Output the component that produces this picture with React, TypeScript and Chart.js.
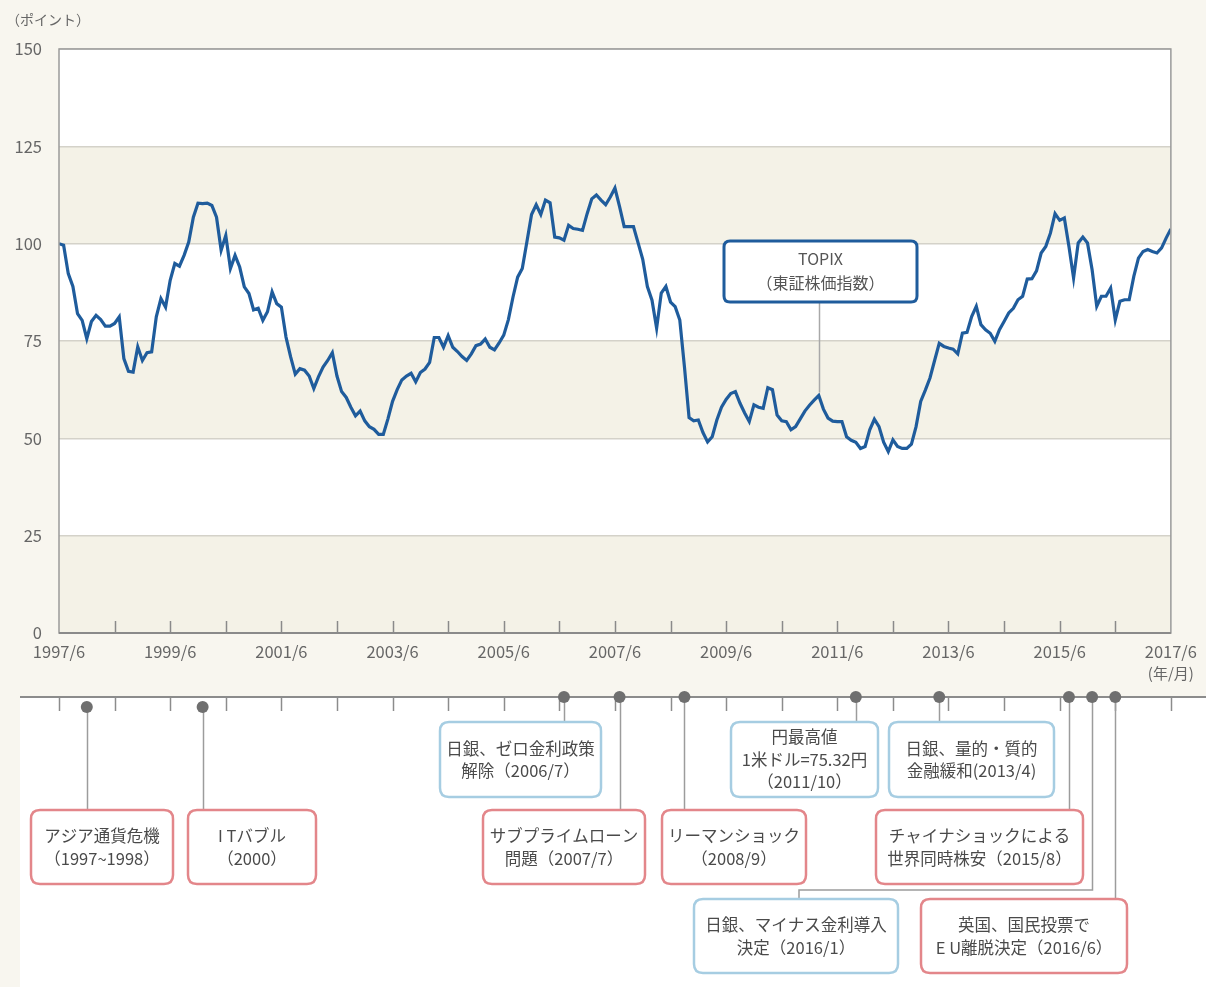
import React, { useEffect, useRef } from "react";
import { Chart, registerables } from "chart.js";

Chart.register(...registerables);

// ---------------- data ----------------
const START_YEAR = 1997;
const START_MONTH = 6;

// TOPIX, monthly, 1997/6 = 100
const topixValues: number[] = [
  100, 99.6, 92.3, 89, 82, 80.3, 75.6, 80, 81.6, 80.5,
  78.8, 78.8, 79.5, 81.2, 70.5, 67.2, 67, 73.5, 70, 72,
  72.2, 81.2, 85.9, 83.7, 90.6, 94.9, 94.2, 97, 100.4, 106.8,
  110.4, 110.3, 110.4, 109.8, 106.8, 98.3, 102.1, 93.6, 97, 94,
  88.9, 87.2, 83, 83.4, 80.3, 82.5, 87.6, 84.6, 83.7, 76,
  70.9, 66.5, 67.9, 67.5, 66, 62.8, 65.8, 68.3, 70, 72,
  66, 62, 60.5, 58, 55.8, 57, 54.5, 53, 52.3, 51,
  51, 55, 59.5, 62.5, 65, 66, 66.7, 64.5, 66.9, 67.8,
  69.5, 75.9, 75.9, 73.4, 76.4, 73.4, 72.3, 71, 70, 71.7,
  73.8, 74.2, 75.5, 73.4, 72.7, 74.5, 76.5, 80.5, 86.3, 91.4,
  93.6, 100.5, 107.5, 110, 107.5, 111.2, 110.5, 101.7, 101.5, 100.9,
  104.7, 103.9, 103.7, 103.4, 107.7, 111.5, 112.5, 111.2, 110, 112,
  114.3, 109.5, 104.4, 104.4, 104.4, 100.2, 96, 89, 85.5, 78.3,
  87.3, 89, 85, 83.8, 80.4, 68.4, 55.3, 54.5, 54.7, 51.5,
  49.1, 50.4, 54.7, 58, 60, 61.5, 62, 59, 56.5, 54.3,
  58.6, 58, 57.7, 63, 62.5, 56, 54.5, 54.3, 52.2, 53,
  55, 57, 58.5, 59.8, 61, 57.5, 55.2, 54.4, 54.3, 54.3,
  50.4, 49.5, 49, 47.4, 47.9, 52.2, 54.9, 53, 49, 46.6,
  49.6, 47.9, 47.4, 47.4, 48.5, 53, 59.5, 62.4, 65.5, 70,
  74.4, 73.6, 73.2, 72.9, 71.7, 77, 77.2, 81.3, 83.9, 79.2,
  77.9, 77, 74.9, 77.9, 80, 82.2, 83.4, 85.6, 86.5, 90.9,
  91, 93, 97.6, 99.3, 102.7, 107.7, 106, 106.6, 99.3, 91.2,
  100.2, 101.7, 100.2, 93.3, 83.9, 86.5, 86.5, 88.6, 80.4, 85.2,
  85.6, 85.6, 91.6, 96.3, 98, 98.5, 98, 97.6, 98.9, 101.5,
  103.8,
];

const xTickLabels = [
  "1997/6", "1999/6", "2001/6", "2003/6", "2005/6", "2007/6",
  "2009/6", "2011/6", "2013/6", "2015/6", "2017/6",
];
const xUnitLabel = "(年/月)";
const yUnitLabel = "（ポイント）";
const seriesName = ["TOPIX", "（東証株価指数）"];
const seriesCalloutDate = "2011/2";

const bandRanges: [number, number][] = [
  [0, 25],
  [50, 75],
  [100, 125],
];

const eventDates = [
  "1997/12", "2000/1", "2006/7", "2007/7", "2008/9",
  "2011/10", "2013/4", "2015/8", "2016/1", "2016/6",
];
const eventLines: string[][] = [
  ["アジア通貨危機", "（1997~1998）"],
  ["I Tバブル", "（2000）"],
  ["日銀、ゼロ金利政策", "解除（2006/7）"],
  ["サブプライムローン", "問題（2007/7）"],
  ["リーマンショック", "（2008/9）"],
  ["円最高値", "1米ドル=75.32円", "（2011/10）"],
  ["日銀、量的・質的", "金融緩和(2013/4)"],
  ["チャイナショックによる", "世界同時株安（2015/8）"],
  ["日銀、マイナス金利導入", "決定（2016/1）"],
  ["英国、国民投票で", "E U離脱決定（2016/6）"],
];
const eventKinds = [
  "shock", "shock", "policy", "shock", "shock",
  "policy", "policy", "shock", "policy", "shock",
];

// ---------------- layout / style (not data) ----------------
const W = 1206;
const H = 987;
const FONT = "'Noto Sans CJK JP', 'Noto Sans', sans-serif";
const PAGE_BG = "#f8f6ef";
const BAND_BG = "#f4f2e7";
const LINE_COLOR = "#1f5c9c";
const TIMELINE_Y = 697;
const TIMELINE_LEFT = 20;
const BELOW_DOT_Y = 707;
const KIND_STYLE: Record<string, string> = { shock: "#e3868a", policy: "#a6cde2" };
// box rectangles for the events [x1, y1, x2, y2]
const eventBoxes: [number, number, number, number][] = [
  [31, 810, 173, 884],
  [188, 810, 316, 884],
  [440, 722, 601, 797],
  [483, 810, 645, 884],
  [662, 810, 806, 884],
  [731, 722, 878, 797],
  [889, 722, 1054, 797],
  [876, 810, 1083, 884],
  [694, 899, 898, 973],
  [921, 899, 1127, 973],
];
const dotBelow = [true, true, false, false, false, false, false, false, false, false];
// elbow route for one connector: index -> [elbowY, elbowX]
const elbowRoutes: Record<number, [number, number]> = { 8: [890, 799] };
const calloutBox: [number, number, number, number] = [724, 241, 917, 302];

const monthIndex = (d: string) => {
  const [y, m] = d.split("/").map(Number);
  return (y - START_YEAR) * 12 + (m - START_MONTH);
};

function roundRect(ctx: CanvasRenderingContext2D, x1: number, y1: number, x2: number, y2: number, r: number) {
  ctx.beginPath();
  ctx.moveTo(x1 + r, y1);
  ctx.lineTo(x2 - r, y1);
  ctx.quadraticCurveTo(x2, y1, x2, y1 + r);
  ctx.lineTo(x2, y2 - r);
  ctx.quadraticCurveTo(x2, y2, x2 - r, y2);
  ctx.lineTo(x1 + r, y2);
  ctx.quadraticCurveTo(x1, y2, x1, y2 - r);
  ctx.lineTo(x1, y1 + r);
  ctx.quadraticCurveTo(x1, y1, x1 + r, y1);
  ctx.closePath();
}

const decorPlugin = {
  id: "decor",
  beforeDraw(chart: any) {
    const { ctx, chartArea: a, scales } = chart;
    const y = scales.y;
    ctx.save();
    ctx.fillStyle = PAGE_BG;
    ctx.fillRect(0, 0, chart.width, chart.height);
    ctx.fillStyle = "#ffffff";
    ctx.fillRect(TIMELINE_LEFT, TIMELINE_Y, chart.width - TIMELINE_LEFT, chart.height - TIMELINE_Y);
    ctx.fillRect(a.left, a.top, a.right - a.left, a.bottom - a.top);
    ctx.fillStyle = BAND_BG;
    for (const [lo, hi] of bandRanges) {
      const t = y.getPixelForValue(hi);
      const b = y.getPixelForValue(lo);
      ctx.fillRect(a.left, t, a.right - a.left, b - t);
    }
    ctx.restore();
  },
  afterDraw(chart: any) {
    const { ctx, chartArea: a, scales } = chart;
    const x = scales.x;
    const y = scales.y;
    ctx.save();

    // plot frame
    ctx.strokeStyle = "#9a9a9a";
    ctx.lineWidth = 1.5;
    ctx.strokeRect(a.left, a.top, a.right - a.left, a.bottom - a.top);
    ctx.strokeStyle = "#8a8a8a";
    ctx.lineWidth = 2;
    ctx.beginPath();
    ctx.moveTo(a.left, a.bottom);
    ctx.lineTo(a.right, a.bottom);
    ctx.stroke();

    // yearly inner ticks
    ctx.lineWidth = 1.5;
    ctx.strokeStyle = "#8a8a8a";
    const years = Math.round((x.max - x.min) / 12);
    for (let k = 1; k < years; k++) {
      const px = Math.round(x.getPixelForValue(k * 12)) + 0.5;
      ctx.beginPath();
      ctx.moveTo(px, a.bottom);
      ctx.lineTo(px, a.bottom - 12);
      ctx.stroke();
    }

    // unit labels
    ctx.fillStyle = "#666";
    ctx.font = `14px ${FONT}`;
    ctx.textAlign = "left";
    ctx.textBaseline = "middle";
    ctx.fillText(yUnitLabel, 6, 20);
    ctx.font = `15px ${FONT}`;
    ctx.textAlign = "center";
    ctx.fillText(xUnitLabel, x.getPixelForValue(x.max), 673);

    // timeline
    ctx.strokeStyle = "#8c8c8c";
    ctx.lineWidth = 2;
    ctx.beginPath();
    ctx.moveTo(TIMELINE_LEFT, TIMELINE_Y);
    ctx.lineTo(chart.width, TIMELINE_Y);
    ctx.stroke();
    ctx.lineWidth = 1.5;
    for (let k = 0; k <= years; k++) {
      const px = Math.round(x.getPixelForValue(k * 12)) + 0.5;
      ctx.beginPath();
      ctx.moveTo(px, TIMELINE_Y);
      ctx.lineTo(px, TIMELINE_Y + 14);
      ctx.stroke();
    }

    // connectors
    ctx.strokeStyle = "#9c9c9c";
    ctx.lineWidth = 1.5;
    eventDates.forEach((d, i) => {
      const px = Math.round(x.getPixelForValue(monthIndex(d))) + 0.5;
      const dy = dotBelow[i] ? BELOW_DOT_Y : TIMELINE_Y;
      const by1 = eventBoxes[i][1];
      ctx.beginPath();
      ctx.moveTo(px, dy);
      const elbow = elbowRoutes[i];
      if (elbow) {
        ctx.lineTo(px, elbow[0]);
        ctx.lineTo(elbow[1], elbow[0]);
        ctx.lineTo(elbow[1], by1);
      } else {
        ctx.lineTo(px, by1);
      }
      ctx.stroke();
    });

    // dots
    ctx.fillStyle = "#6f6f6f";
    eventDates.forEach((d, i) => {
      const px = x.getPixelForValue(monthIndex(d));
      const dy = dotBelow[i] ? BELOW_DOT_Y : TIMELINE_Y;
      ctx.beginPath();
      ctx.arc(px, dy, 6, 0, Math.PI * 2);
      ctx.fill();
    });

    // event boxes
    eventBoxes.forEach(([x1, y1, x2, y2], i) => {
      roundRect(ctx, x1, y1, x2, y2, 9);
      ctx.fillStyle = "#ffffff";
      ctx.fill();
      ctx.strokeStyle = KIND_STYLE[eventKinds[i]];
      ctx.lineWidth = 2.5;
      ctx.stroke();
      const lines = eventLines[i];
      const lh = 22.5;
      const cx = (x1 + x2) / 2;
      const cy = (y1 + y2) / 2;
      ctx.fillStyle = "#4a4a4a";
      ctx.font = `16.5px ${FONT}`;
      ctx.textAlign = "center";
      ctx.textBaseline = "middle";
      lines.forEach((t, j) => {
        ctx.fillText(t, cx, cy + (j - (lines.length - 1) / 2) * lh);
      });
    });

    // series callout
    const ci = monthIndex(seriesCalloutDate);
    const cpx = Math.round(x.getPixelForValue(ci)) + 0.5;
    const cpy = y.getPixelForValue(topixValues[ci]);
    const [cx1, cy1, cx2, cy2] = calloutBox;
    ctx.strokeStyle = "#a8a8a8";
    ctx.lineWidth = 1.5;
    ctx.beginPath();
    ctx.moveTo(cpx, cy2);
    ctx.lineTo(cpx, cpy - 3);
    ctx.stroke();
    roundRect(ctx, cx1, cy1, cx2, cy2, 6);
    ctx.fillStyle = "#ffffff";
    ctx.fill();
    ctx.strokeStyle = LINE_COLOR;
    ctx.lineWidth = 3;
    ctx.stroke();
    ctx.fillStyle = "#555";
    ctx.font = `16px ${FONT}`;
    ctx.textAlign = "center";
    ctx.textBaseline = "middle";
    const ccx = (cx1 + cx2) / 2;
    ctx.fillText(seriesName[0], ccx, cy1 + 18);
    ctx.fillText(seriesName[1], ccx, cy1 + 42);

    ctx.restore();
  },
};

export default function App() {
  const ref = useRef<HTMLCanvasElement | null>(null);

  useEffect(() => {
    document.body.style.margin = "0";
    const canvas = ref.current;
    if (!canvas) return;
    Chart.defaults.font.family = FONT;
    const chart = new Chart(canvas, {
      type: "line",
      data: {
        datasets: [
          {
            label: seriesName[0],
            data: topixValues.map((v, i) => ({ x: i, y: v })),
            borderColor: LINE_COLOR,
            borderWidth: 3.2,
            pointRadius: 0,
            tension: 0,
            fill: false,
          },
        ],
      },
      options: {
        responsive: false,
        animation: false,
        devicePixelRatio: 1,
        layout: { padding: { top: 49, right: 31, left: 0, bottom: 0 } },
        plugins: { legend: { display: false }, tooltip: { enabled: false } },
        scales: {
          x: {
            type: "linear",
            min: 0,
            max: 240,
            afterFit: (s: any) => {
              s.height = H - 633;
            },
            grid: { display: false, drawTicks: false },
            border: { display: false },
            ticks: {
              stepSize: 24,
              autoSkip: false,
              maxRotation: 0,
              minRotation: 0,
              padding: 9,
              color: "#666",
              font: { size: 16.5, family: FONT },
              callback: (v: any) => xTickLabels[Math.round(Number(v) / 24)] ?? "",
            },
          },
          y: {
            min: 0,
            max: 150,
            afterFit: (s: any) => {
              s.width = 59;
            },
            grid: { color: "#d4d2c9", lineWidth: 1.5, drawTicks: false },
            border: { display: false },
            ticks: {
              stepSize: 25,
              padding: 17,
              color: "#666",
              font: { size: 16.5, family: FONT },
            },
          },
        },
      },
      plugins: [decorPlugin],
    } as any);
    return () => chart.destroy();
  }, []);

  return (
    <div style={{ width: W, height: H }}>
      <canvas ref={ref} width={W} height={H} style={{ display: "block", width: W, height: H }} />
    </div>
  );
}
